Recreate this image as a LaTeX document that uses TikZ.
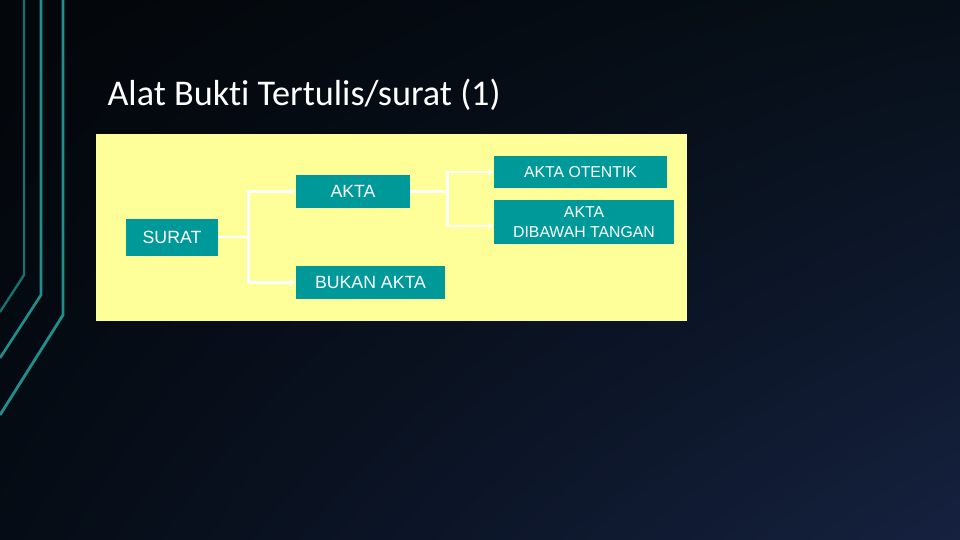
\documentclass[tikz,border=0pt]{standalone}
\usepackage{fontspec}
\setmainfont{Liberation Sans}
\newfontfamily\titlefont[Ligatures={NoCommon}]{Carlito}
\usetikzlibrary{arrows.meta,shadings}
\definecolor{boxteal}{HTML}{009999}
\definecolor{panel}{HTML}{FFFF99}
\definecolor{bgtl}{HTML}{03060A}
\definecolor{bgtr}{HTML}{060F18}
\definecolor{bgbl}{HTML}{050C15}
\definecolor{bgbr}{HTML}{15213F}
\definecolor{stripe}{HTML}{1E8F8B}
\definecolor{stripedark}{HTML}{17706D}

\begin{document}
\begin{tikzpicture}[x=1pt,y=-1pt,
  box/.style={fill=boxteal,text=white,inner sep=0pt,align=center,font=\fontsize{17.7}{19}\selectfont},
  subbox/.style={box,font=\fontsize{15.8}{19.5}\selectfont},
  link/.style={draw=white,line width=2.8pt},
  arrow/.style={link,-{Stealth[length=6pt,width=6pt]}}]
  % background
  \shade[upper left=bgtl,upper right=bgtr,lower left=bgbl,lower right=bgbr] (0,0) rectangle (960,540);
  \useasboundingbox (0,0) rectangle (960,540);
  % stripes on the left
  \draw[stripedark,line width=2.4pt] (24,0) -- (24,275) -- (0,312);
  \draw[stripe,line width=2.6pt] (41,0) -- (41,295) -- (0,358);
  \draw[stripe,line width=2.8pt] (63,0) -- (63,315) -- (0,415);
  % title
  \node (title) [anchor=west,text=white,font=\titlefont\fontsize{36.2}{40}\selectfont] at (104,95) {Alat Bukti Tertulis/surat (1)};
  % panel
  \fill[panel] (96,134) rectangle (687,321);
  \node (surat) [box,minimum width=92pt,minimum height=37pt] at (172,237) {SURAT};
  \node (akta) [box,minimum width=114pt,minimum height=33pt] at (353,191.5) {AKTA};
  \node (bukan) [box,minimum width=149pt,minimum height=33pt] at (370.5,282.5) {BUKAN AKTA};
  \node (otentik) [subbox,minimum width=173pt,minimum height=32pt] at (580.5,172) {AKTA OTENTIK};
  \node (dibawah) [subbox,minimum width=180pt,minimum height=44pt] at (584,222) {AKTA\\DIBAWAH TANGAN};
  % connectors
  \path (surat.east) ++(30,0) coordinate (j1);
  \path (akta.east) ++(37,0) coordinate (j2);
  \draw[link] (surat.east) -- (j1);
  \draw[arrow] (j1) |- (akta.west);
  \draw[arrow] (j1) |- (bukan.west);
  \draw[link] (akta.east) -- (j2);
  \draw[arrow] (j2) |- (otentik.west);
  \draw[arrow] (j2) |- ([yshift=-4pt]dibawah.west);
\end{tikzpicture}
\end{document}
